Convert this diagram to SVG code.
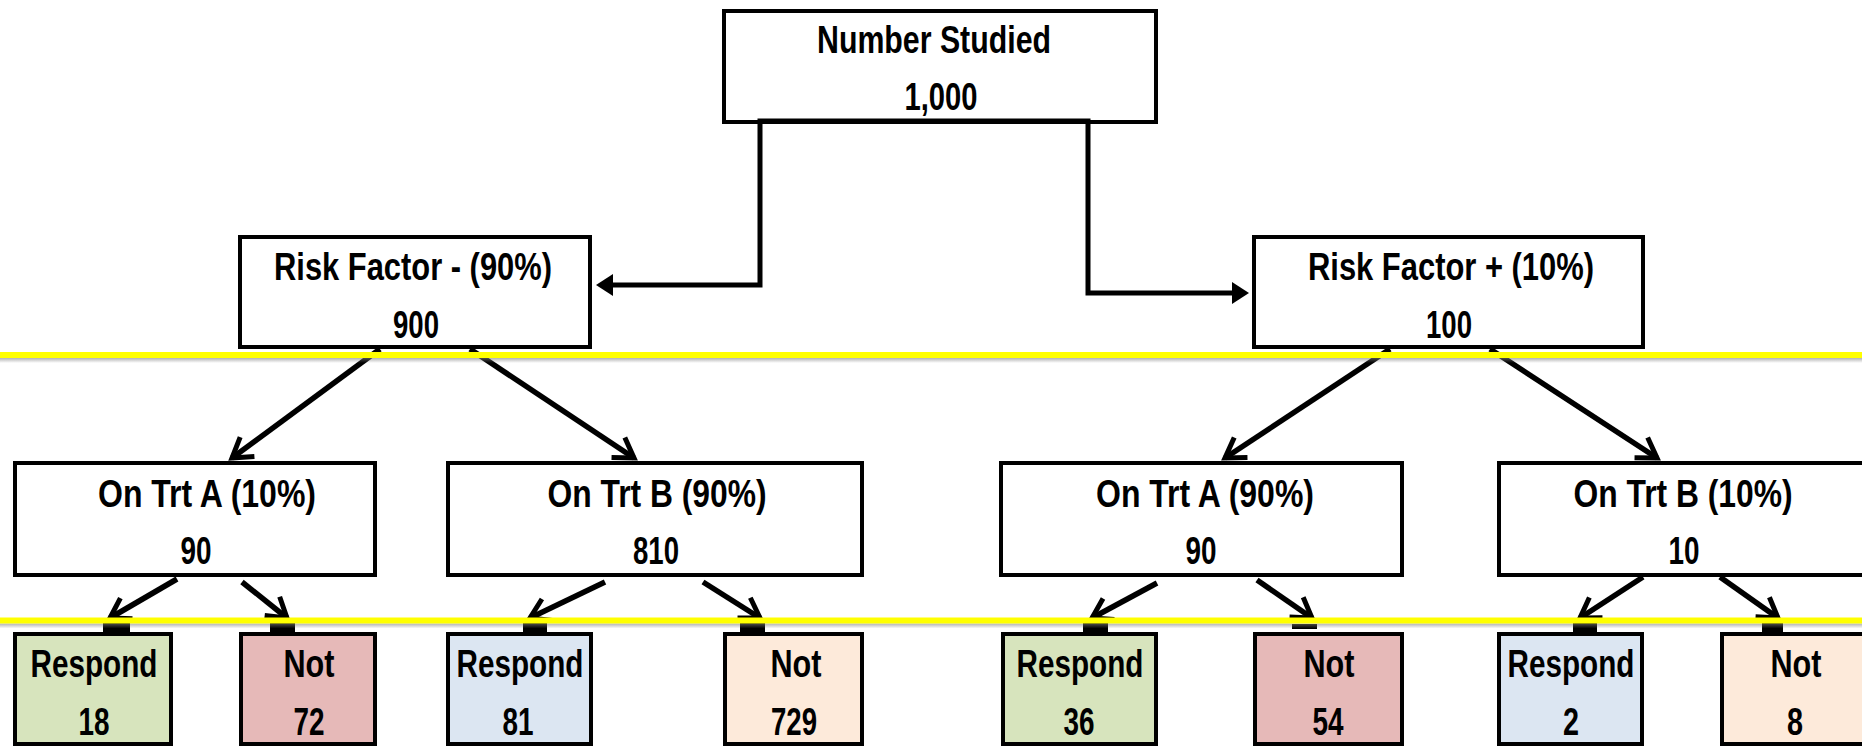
<svg xmlns="http://www.w3.org/2000/svg" width="1862" height="746" viewBox="0 0 1862 746">
<style>
.box{fill:#fff;stroke:#000;stroke-width:4}
.g{fill:#D7E4BD}.r{fill:#E6B9B8}.b{fill:#DCE6F2}.o{fill:#FDEADA}
.t{font-family:"Liberation Sans",Arial,sans-serif;font-weight:bold;font-size:39px;fill:#000;text-anchor:middle}
.elbow{fill:none;stroke:#000;stroke-width:5;stroke-linejoin:miter;marker-end:url(#solid)}
.diag{fill:none;stroke:#000;stroke-width:5.5;marker-end:url(#open)}
.blob{fill:#000}
.yl{fill:#FFFF00}
</style>
<defs>
<marker id="solid" viewBox="-18 -12 20 24" markerWidth="20" markerHeight="24" refX="-8" refY="0" orient="auto" markerUnits="userSpaceOnUse">
<path d="M -17 -11 L 0 0 L -17 11 Z" fill="#000"/>
</marker>
<marker id="open" viewBox="-24 -16 32 32" markerWidth="32" markerHeight="32" refX="0" refY="0" orient="auto" markerUnits="userSpaceOnUse" overflow="visible">
<path d="M -19 -12 L 0 0 L -19 12" fill="none" stroke="#000" stroke-width="5" stroke-linejoin="miter"/>
</marker>
<linearGradient id="shadow" x1="0" y1="0" x2="0" y2="1">
<stop offset="0" stop-color="#7f7f7f" stop-opacity="0.6"/>
<stop offset="1" stop-color="#7f7f7f" stop-opacity="0"/>
</linearGradient>
</defs>

<g id="n-studied">
<rect class="box" x="724" y="11" width="432" height="111"/>
<text class="t" x="934" y="53" textLength="234" lengthAdjust="spacingAndGlyphs">Number Studied</text>
<text class="t" x="941" y="110" textLength="73" lengthAdjust="spacingAndGlyphs">1,000</text>
</g>
<g id="n-rfminus">
<rect class="box" x="240" y="237" width="350" height="110"/>
<text class="t" x="413" y="280" textLength="278" lengthAdjust="spacingAndGlyphs">Risk Factor - (90%)</text>
<text class="t" x="416" y="338" textLength="46" lengthAdjust="spacingAndGlyphs">900</text>
</g>
<g id="n-rfplus">
<rect class="box" x="1254" y="237" width="389" height="110"/>
<text class="t" x="1451" y="280" textLength="286" lengthAdjust="spacingAndGlyphs">Risk Factor + (10%)</text>
<text class="t" x="1449" y="338" textLength="46" lengthAdjust="spacingAndGlyphs">100</text>
</g>

<g id="n-trta10">
<rect class="box" x="15" y="463" width="360" height="112"/>
<text class="t" x="207" y="507" textLength="218" lengthAdjust="spacingAndGlyphs">On Trt A (10%)</text>
<text class="t" x="196" y="564" textLength="31" lengthAdjust="spacingAndGlyphs">90</text>
</g>
<g id="n-trtb90">
<rect class="box" x="448" y="463" width="414" height="112"/>
<text class="t" x="657" y="507" textLength="219" lengthAdjust="spacingAndGlyphs">On Trt B (90%)</text>
<text class="t" x="656" y="564" textLength="46" lengthAdjust="spacingAndGlyphs">810</text>
</g>
<g id="n-trta90">
<rect class="box" x="1001" y="463" width="401" height="112"/>
<text class="t" x="1205" y="507" textLength="218" lengthAdjust="spacingAndGlyphs">On Trt A (90%)</text>
<text class="t" x="1201" y="564" textLength="31" lengthAdjust="spacingAndGlyphs">90</text>
</g>
<g id="n-trtb10">
<rect class="box" x="1499" y="463" width="372" height="112"/>
<text class="t" x="1683" y="507" textLength="219" lengthAdjust="spacingAndGlyphs">On Trt B (10%)</text>
<text class="t" x="1684" y="564" textLength="31" lengthAdjust="spacingAndGlyphs">10</text>
</g>

<g id="n-resp18">
<rect class="box g" x="15" y="634" width="156" height="110"/>
<text class="t" x="94" y="677" textLength="127" lengthAdjust="spacingAndGlyphs">Respond</text>
<text class="t" x="94" y="735" textLength="31" lengthAdjust="spacingAndGlyphs">18</text>
</g>
<g id="n-not72">
<rect class="box r" x="241" y="634" width="134" height="110"/>
<text class="t" x="309" y="677" textLength="51" lengthAdjust="spacingAndGlyphs">Not</text>
<text class="t" x="309" y="735" textLength="31" lengthAdjust="spacingAndGlyphs">72</text>
</g>
<g id="n-resp81">
<rect class="box b" x="448" y="634" width="143" height="110"/>
<text class="t" x="520" y="677" textLength="127" lengthAdjust="spacingAndGlyphs">Respond</text>
<text class="t" x="518" y="735" textLength="31" lengthAdjust="spacingAndGlyphs">81</text>
</g>
<g id="n-not729">
<rect class="box o" x="725" y="634" width="137" height="110"/>
<text class="t" x="796" y="677" textLength="51" lengthAdjust="spacingAndGlyphs">Not</text>
<text class="t" x="794" y="735" textLength="46" lengthAdjust="spacingAndGlyphs">729</text>
</g>
<g id="n-resp36">
<rect class="box g" x="1003" y="634" width="153" height="110"/>
<text class="t" x="1080" y="677" textLength="127" lengthAdjust="spacingAndGlyphs">Respond</text>
<text class="t" x="1079" y="735" textLength="31" lengthAdjust="spacingAndGlyphs">36</text>
</g>
<g id="n-not54">
<rect class="box r" x="1255" y="634" width="147" height="110"/>
<text class="t" x="1329" y="677" textLength="51" lengthAdjust="spacingAndGlyphs">Not</text>
<text class="t" x="1328" y="735" textLength="31" lengthAdjust="spacingAndGlyphs">54</text>
</g>
<g id="n-resp2">
<rect class="box b" x="1499" y="634" width="143" height="110"/>
<text class="t" x="1571" y="677" textLength="127" lengthAdjust="spacingAndGlyphs">Respond</text>
<text class="t" x="1571" y="735" textLength="16" lengthAdjust="spacingAndGlyphs">2</text>
</g>
<g id="n-not8">
<rect class="box o" x="1722" y="634" width="150" height="110"/>
<text class="t" x="1796" y="677" textLength="51" lengthAdjust="spacingAndGlyphs">Not</text>
<text class="t" x="1795" y="735" textLength="16" lengthAdjust="spacingAndGlyphs">8</text>
</g>

<g id="connectors">
<path class="elbow" d="M 940 121 H 760 V 285 H 604"/>
<path class="elbow" d="M 940 121 H 1088 V 293 H 1241"/>
<path class="diag" d="M 380 349 L 232 458"/>
<path class="diag" d="M 470 349 L 634 458"/>
<path class="diag" d="M 1390 349 L 1225 458"/>
<path class="diag" d="M 1490 349 L 1657 458"/>
<path class="diag" d="M 177 579 L 110 618"/>
<path class="diag" d="M 242 582 L 287 618"/>
<path class="diag" d="M 605 582 L 530 618"/>
<path class="diag" d="M 703 582 L 760 618"/>
<path class="diag" d="M 1157 583 L 1092 618"/>
<path class="diag" d="M 1257 580 L 1312 618"/>
<path class="diag" d="M 1643 577 L 1580 618"/>
<path class="diag" d="M 1720 577 L 1778 618"/>
<rect class="blob" x="103" y="622" width="27" height="10"/>
<rect class="blob" x="270" y="622" width="25" height="10"/>
<rect class="blob" x="523" y="622" width="24" height="10"/>
<rect class="blob" x="740" y="622" width="25" height="10"/>
<rect class="blob" x="1083" y="622" width="25" height="10"/>
<rect class="blob" x="1292" y="624" width="25" height="5"/>
<rect class="blob" x="1573" y="622" width="24" height="10"/>
<rect class="blob" x="1762" y="622" width="21" height="10"/>
</g>

<g id="dividers">
<rect x="0" y="358" width="1862" height="5" fill="url(#shadow)"/>
<rect class="yl" x="0" y="352" width="1862" height="6"/>
<rect x="0" y="623.5" width="1862" height="5" fill="url(#shadow)"/>
<rect class="yl" x="0" y="617.5" width="1862" height="6"/>
</g>
</svg>
